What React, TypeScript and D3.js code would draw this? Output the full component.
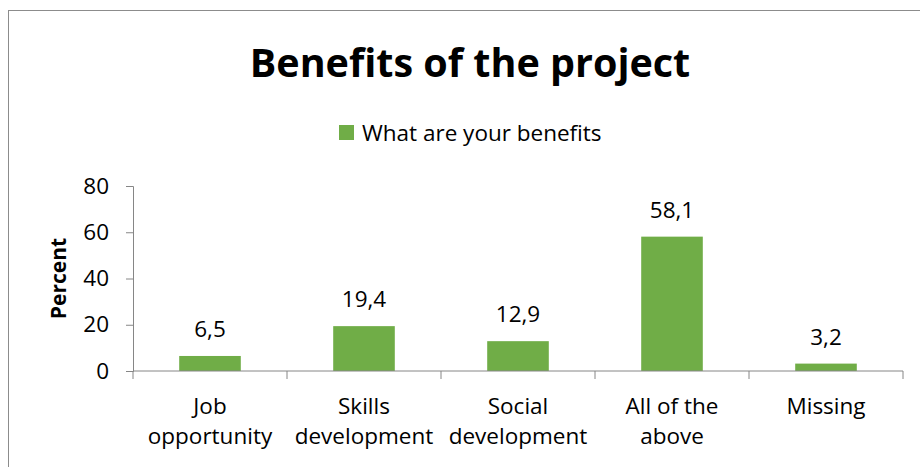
import { FC, useEffect, useRef } from 'react';
import * as d3 from 'd3';

const categories = [
  ['Job', 'opportunity'],
  ['Skills', 'development'],
  ['Social', 'development'],
  ['All of the', 'above'],
  ['Missing'],
];
const values = [6.5, 19.4, 12.9, 58.1, 3.2];
const yTicks = [0, 20, 40, 60, 80];
const seriesName = 'What are your benefits';
const title = 'Benefits of the project';

const Chart: FC<{ width?: number; height?: number }> = ({ width = 920, height = 467 }) => {
  const svgRef = useRef<SVGSVGElement | null>(null);

  const margin = { top: 186, right: 17, bottom: 96, left: 133 };
  const font = '"Open Sans", Calibri, sans-serif';
  const green = '#70ad47';
  const axisColor = '#868686';
  const fs = 22.5;

  useEffect(() => {
    if (!svgRef.current) return;
    const svg = d3.select(svgRef.current);
    svg.selectAll('*').remove();

    // chart frame
    svg.append('rect')
      .attr('x', 8.5)
      .attr('y', 10.5)
      .attr('width', width)
      .attr('height', height)
      .attr('fill', 'white')
      .attr('stroke', '#8c8c8c')
      .attr('stroke-width', 1);

    const labels = categories.map(c => c.join(' '));
    const x = d3.scaleBand()
      .domain(labels)
      .range([margin.left, width - margin.right])
      .paddingInner(0.6)
      .paddingOuter(0.3);

    const band = d3.scaleBand()
      .domain(labels)
      .range([margin.left, width - margin.right]);

    const y = d3.scaleLinear()
      .domain([0, 80])
      .range([height - margin.bottom, margin.top]);

    // title
    svg.append('text')
      .attr('x', 470)
      .attr('y', 77)
      .attr('text-anchor', 'middle')
      .attr('font-family', font)
      .attr('font-weight', 'bold')
      .attr('font-size', 39.5)
      .text(title);

    // legend
    svg.append('rect')
      .attr('x', 339)
      .attr('y', 125)
      .attr('width', 15)
      .attr('height', 15)
      .attr('fill', green);
    svg.append('text')
      .attr('x', 362)
      .attr('y', 140.5)
      .attr('font-family', font)
      .attr('font-size', fs)
      .text(seriesName);

    // bars
    svg.selectAll('rect.bar')
      .data(values)
      .enter()
      .append('rect')
      .attr('class', 'bar')
      .attr('x', (_, i) => x(labels[i]) as number)
      .attr('y', d => y(d))
      .attr('width', x.bandwidth())
      .attr('height', d => y(0) - y(d))
      .attr('fill', green);

    // value labels
    svg.selectAll('text.val')
      .data(values)
      .enter()
      .append('text')
      .attr('class', 'val')
      .attr('x', (_, i) => (x(labels[i]) as number) + x.bandwidth() / 2)
      .attr('y', d => y(d) - 19)
      .attr('text-anchor', 'middle')
      .attr('font-family', font)
      .attr('font-size', fs)
      .text(d => d3.format('.1f')(d).replace('.', ','));

    // y axis
    const yAxis = svg.append('g')
      .attr('transform', `translate(${margin.left},0)`)
      .call(d3.axisLeft(y).tickValues(yTicks).tickSize(7).tickPadding(17).tickSizeOuter(7));
    yAxis.selectAll('text')
      .attr('font-family', font)
      .attr('font-size', fs)
      .attr('fill', '#000');

    // x axis with boundary ticks
    const xAxis = svg.append('g')
      .attr('transform', `translate(0,${y(0)})`);
    xAxis.append('line')
      .attr('x1', margin.left)
      .attr('x2', width - margin.right)
      .attr('stroke', axisColor);
    const boundaries = labels.map(l => band(l) as number).concat([width - margin.right]);
    xAxis.selectAll('line.tick')
      .data(boundaries)
      .enter()
      .append('line')
      .attr('class', 'tick')
      .attr('x1', d => d)
      .attr('x2', d => d)
      .attr('y1', 0)
      .attr('y2', 8)
      .attr('stroke', axisColor);

    // category labels
    categories.forEach((lines, i) => {
      const t = xAxis.append('text')
        .attr('x', (band(labels[i]) as number) + band.bandwidth() / 2)
        .attr('text-anchor', 'middle')
        .attr('font-family', font)
        .attr('font-size', fs);
      lines.forEach((line, j) => {
        t.append('tspan')
          .attr('x', (band(labels[i]) as number) + band.bandwidth() / 2)
          .attr('y', 43 + j * 30)
          .text(line);
      });
    });

    svg.selectAll('.domain, .tick line').attr('stroke', axisColor);

    // y title
    svg.append('text')
      .attr('transform', `translate(66,${(margin.top + y(0)) / 2}) rotate(-90)`)
      .attr('text-anchor', 'middle')
      .attr('font-family', font)
      .attr('font-weight', 'bold')
      .attr('font-size', 21)
      .text('Percent');
  }, []);

  return <svg ref={svgRef} width={width} height={height} style={{ display: 'block' }} />;
};

export default function App() {
  return (
    <div style={{ position: 'fixed', left: 0, top: 0 }}>
      <Chart />
    </div>
  );
}
